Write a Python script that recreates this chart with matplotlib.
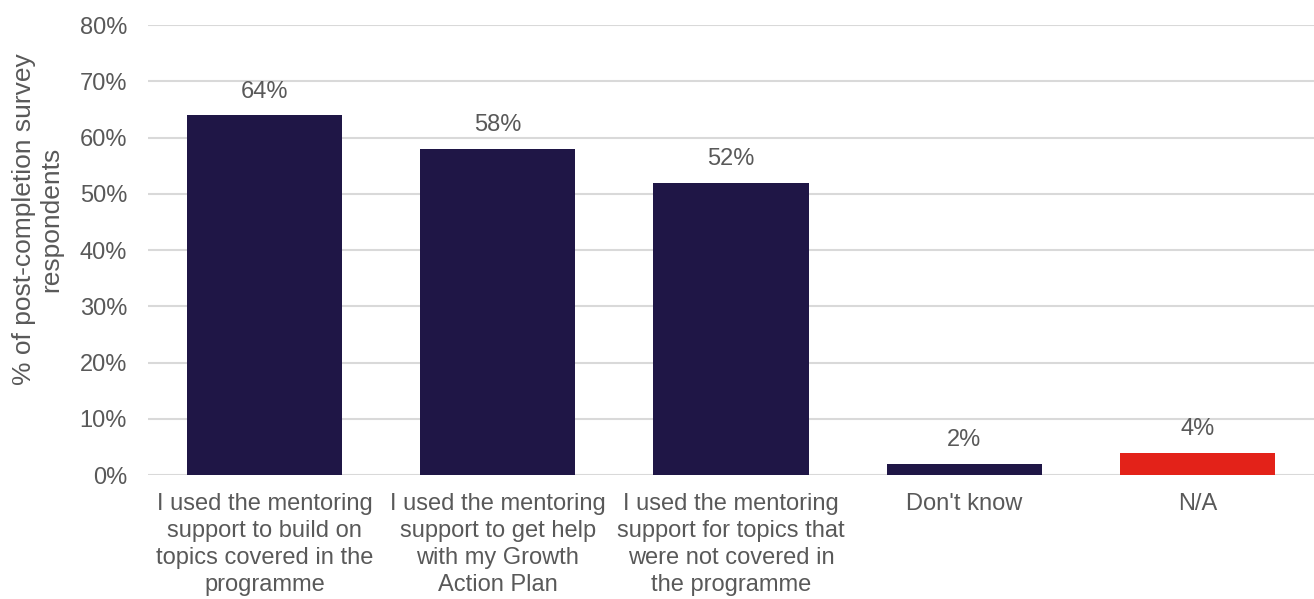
import numpy as np
import matplotlib.pyplot as plt

# mentoring support usage, post-completion survey
categories = [
    "I used the mentoring\nsupport to build on\ntopics covered in the\nprogramme",
    "I used the mentoring\nsupport to get help\nwith my Growth\nAction Plan",
    "I used the mentoring\nsupport for topics that\nwere not covered in\nthe programme",
    "Don't know",
    "N/A",
]
values = [64, 58, 52, 2, 4]
colours = ["#1F1646", "#1F1646", "#1F1646", "#1F1646", "#E32219"]

grey = "#595959"
fs = 17
plt.rcParams['font.family'] = ['Liberation Sans', 'DejaVu Sans']

fig = plt.figure(figsize=(13.14, 5.99), dpi=100)
ax = fig.add_axes([0.1126, 0.207, 0.8874, 0.751])

x = np.arange(len(values))
bars = ax.bar(x, values, width=0.665, color=colours, zorder=3)
for xi, v in zip(x, values):
    ax.annotate(f"{v}%", (xi, v), xytext=(0, 9), textcoords='offset points',
                ha='center', va='bottom', fontsize=fs, color=grey)

ax.set_xlim(-0.5, len(values) - 0.5)
ax.set_ylim(0, 80)
ax.set_yticks(np.arange(0, 81, 10))
ax.set_yticklabels([f"{t}%" for t in range(0, 81, 10)])
ax.set_xticks(x)
ax.set_xticklabels(categories, linespacing=1.3)
ax.tick_params(axis='both', length=0, labelsize=fs, labelcolor=grey)
ax.tick_params(axis='x', pad=13)
ax.tick_params(axis='y', pad=15)
ax.grid(axis='y', color='#D9D9D9', linewidth=1.5, zorder=0)
for s in ax.spines.values():
    s.set_visible(False)

fig.text(38 / 1314, 0.634, "% of post-completion survey\nrespondents", fontsize=19,
         color=grey, rotation=90, ha='center', va='center', linespacing=1.16)

fig.savefig("out.png", dpi=100)
